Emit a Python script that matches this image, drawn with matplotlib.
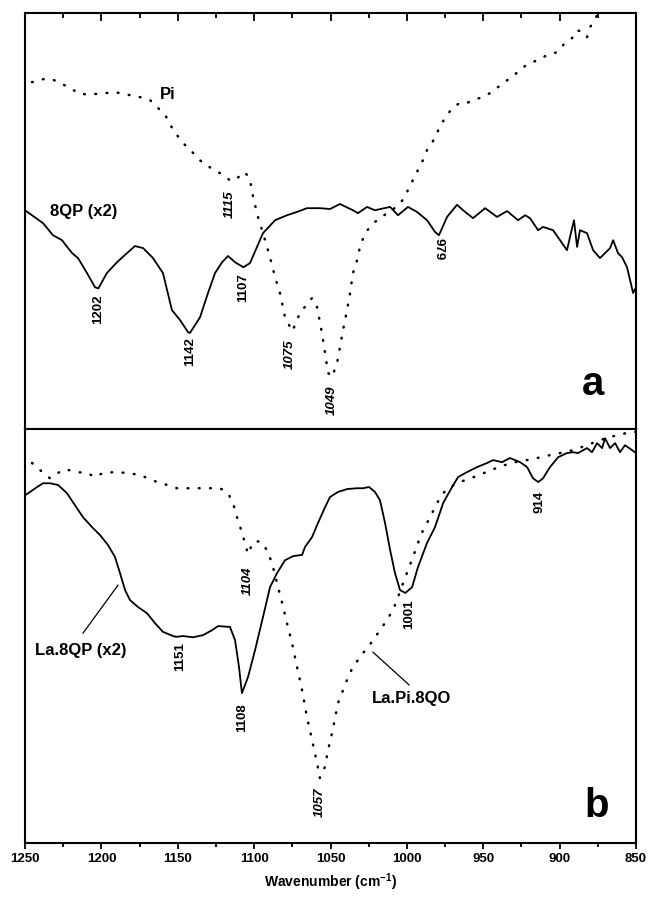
from matplotlib import pyplot as plt
from matplotlib.ticker import MultipleLocator

plt.rcParams['font.family'] = ['Liberation Sans', 'DejaVu Sans']
plt.rcParams['mathtext.fontset'] = 'custom'
plt.rcParams['mathtext.rm'] = 'Liberation Sans:bold'
plt.rcParams['mathtext.it'] = 'Liberation Sans:bold:italic'

# (a) 8QP (x2), solid
wn_8qp = [1250, 1238.2, 1231.7, 1225.8, 1219.2, 1215.3, 1209.4, 1204.2, 1202, 1196.4,
          1189.8, 1183.2, 1178.0, 1172.7, 1166.2, 1159.7, 1153.8, 1148.5, 1143.3, 1142,
          1135.4, 1130.2, 1125.6, 1121.0, 1117.1, 1112.5, 1107, 1102.7, 1098.1, 1094.2,
          1086.3, 1078.5, 1071.9, 1065.4, 1056.9, 1050.3, 1043.8, 1035.3, 1032.0, 1026.1,
          1020.9, 1011.0, 1005.8, 999.3, 993.4, 986.8, 981.6, 979, 973.7, 967.2,
          961.9, 956.7, 948.8, 941.0, 934.4, 927.2, 922.6, 919.4, 914.1, 910.9,
          904.3, 895.2, 893.2, 890.6, 888.6, 886.7, 882.1, 878.1, 873.6, 867.0,
          865.0, 861.8, 859.1, 855.9, 851.9, 850]
t_8qp = [52.6, 49.5, 46.6, 45.4, 42.3, 41.1, 37.5, 34.1, 33.8, 37.5,
         40.1, 42.3, 44.0, 43.5, 41.1, 37.5, 28.6, 26.2, 23.3, 23.1,
         26.9, 32.7, 37.5, 40.1, 41.6, 40.1, 38.9, 39.9, 43.8, 47.1,
         50.2, 51.4, 52.2, 53.1, 53.1, 52.9, 54.1, 52.6, 51.9, 53.4,
         52.6, 53.4, 51.4, 53.4, 52.2, 50.2, 47.4, 46.6, 51.0, 53.9,
         52.2, 50.7, 53.1, 51.0, 52.4, 50.2, 51.4, 50.7, 47.8, 48.6,
         47.8, 43.0, 46.2, 50.2, 43.8, 47.8, 47.1, 43.0, 41.1, 43.5,
         45.4, 42.3, 41.3, 38.9, 32.7, 34.1]

# (a) Pi, dotted
wn_pi = [1245.4, 1238.2, 1232.3, 1227.1, 1220.5, 1214.0, 1205.5, 1196.3, 1191.1, 1184.5,
         1174.7, 1168.2, 1162.9, 1157.0, 1153.1, 1146.6, 1140.0, 1133.5, 1122.3, 1115,
         1111.2, 1106.0, 1102.7, 1100.7, 1097.5, 1094.2, 1089.6, 1086.3, 1083.1, 1079.8,
         1075, 1070.0, 1062.1, 1058.8, 1055.6, 1053.6, 1051.6, 1049, 1045.7, 1043.8,
         1041.8, 1039.2, 1037.2, 1035.3, 1032.6, 1030.7, 1027.4, 1024.1, 1020.9, 1016.3,
         1013.0, 1009.7, 1004.5, 1001.2, 999.3, 996.0, 992.7, 989.4, 986.8, 983.5,
         980.3, 977.0, 973.7, 969.8, 965.2, 960.6, 956.7, 952.1, 947.5, 941.0,
         937.1, 931.2, 924.6, 919.4, 914.1, 908.2, 901.7, 896.5, 891.9, 888.6,
         884.7, 882.1, 880.1, 875.5, 870.3]
t_pi = [83.4, 84.1, 84.1, 83.2, 82.0, 80.5, 80.5, 80.8, 81.0, 80.5,
        79.8, 79.1, 77.2, 74.8, 71.9, 68.8, 66.4, 63.9, 61.5, 59.6,
        60.3, 61.8, 59.9, 55.8, 51.0, 47.1, 41.3, 36.5, 32.7, 26.9,
        23.5, 27.9, 31.5, 29.3, 23.1, 18.3, 13.5, 12.5, 15.9, 19.7,
        23.8, 28.6, 32.7, 37.5, 40.6, 43.8, 47.1, 48.6, 49.8, 51.0,
        51.9, 52.6, 54.3, 55.8, 57.5, 59.9, 62.3, 64.7, 67.1, 68.8,
        71.2, 73.6, 75.5, 77.4, 78.4, 78.4, 79.1, 79.6, 80.3, 82.0,
        83.2, 84.6, 86.8, 88.0, 88.7, 89.9, 90.6, 92.8, 94.0, 95.9,
        95.4, 94.2, 96.6, 99.5, 103.1]

# (b) La.8QP (x2), solid
wn_la8qp = [1250, 1246.7, 1242.1, 1238.2, 1233.6, 1228.4, 1222.5, 1217.3, 1212.0, 1206.1,
            1200.9, 1195.7, 1191.1, 1187.8, 1184.5, 1181.3, 1176.0, 1170.1, 1164.9, 1159.7,
            1153.1, 1151, 1146.6, 1140.0, 1133.5, 1127.6, 1123.6, 1115.8, 1112.5, 1109.9,
            1108, 1104.0, 1099.4, 1094.2, 1089.6, 1085.0, 1079.8, 1074.5, 1068.6, 1066.7,
            1062.1, 1058.2, 1053.6, 1050.3, 1045.1, 1039.2, 1032.6, 1028.7, 1024.8, 1020.9,
            1017.6, 1014.3, 1011.0, 1007.8, 1004.5, 1001, 996.6, 992.7, 986.8, 981.6,
            976.3, 970.4, 966.5, 960.6, 954.1, 947.5, 943.6, 937.7, 932.5, 925.9,
            921.3, 917.4, 914, 910.9, 906.3, 901.0, 895.2, 891.2, 888.0, 882.1,
            878.8, 875.5, 872.2, 870.3, 867.0, 863.7, 860.5, 857.2, 852.6, 850]
t_la8qp = [84.0, 84.8, 86.0, 86.9, 86.9, 86.5, 84.5, 81.6, 78.7, 76.3,
           74.4, 72.0, 69.1, 65.2, 61.1, 58.7, 57.0, 55.5, 53.1, 51.0,
           50.0, 49.8, 50.0, 49.7, 50.2, 51.4, 52.4, 52.2, 49.0, 42.5,
           36.2, 40.1, 46.6, 54.6, 61.8, 65.2, 68.3, 69.3, 69.6, 71.5,
           73.9, 77.3, 81.1, 83.6, 84.8, 85.5, 85.7, 85.7, 86.0, 84.8,
           82.8, 77.3, 70.8, 65.2, 61.1, 60.4, 61.8, 66.7, 72.5, 76.3,
           82.1, 86.0, 88.4, 89.6, 90.8, 91.8, 92.5, 92.0, 93.0, 92.0,
           90.8, 88.1, 87.2, 88.1, 90.8, 93.2, 94.2, 94.4, 94.2, 95.4,
           94.4, 96.6, 95.4, 97.8, 95.4, 96.6, 94.4, 96.1, 94.9, 94.2]

# (b) La.Pi.8QO, dotted
wn_lapi = [1245.4, 1240.2, 1233.6, 1228.4, 1223.8, 1216.0, 1209.4, 1204.2, 1198.9, 1191.1,
           1183.2, 1174.7, 1169.5, 1163.6, 1157.0, 1150.5, 1140.0, 1128.9, 1122.3, 1117.1,
           1113.8, 1111.2, 1107.9, 1104, 1100.7, 1096.1, 1091.6, 1088.3, 1085.0, 1081.7,
           1078.5, 1075.2, 1071.9, 1068.6, 1065.4, 1062.1, 1058.8, 1057, 1053.6, 1051.6,
           1049.0, 1047.0, 1045.1, 1041.8, 1038.5, 1035.3, 1032.0, 1028.7, 1025.4, 1022.2,
           1017.6, 1013.0, 1009.1, 1005.8, 1002.5, 999.3, 996.0, 992.7, 989.4, 984.8,
           980.3, 976.3, 971.8, 965.2, 958.7, 952.1, 945.6, 939.0, 932.5, 924.0,
           914.8, 906.3, 899.7, 891.2, 882.1, 873.6, 867.0, 860.5, 854.0, 850]
t_lapi = [91.8, 90.1, 88.1, 89.4, 90.3, 89.6, 89.4, 88.4, 89.4, 89.6,
          89.4, 88.9, 88.1, 87.2, 86.5, 85.7, 85.7, 85.7, 85.7, 84.5,
          82.1, 78.7, 74.9, 69.8, 72.7, 72.9, 70.8, 67.6, 62.8, 58.0,
          53.1, 48.3, 42.5, 36.9, 30.4, 24.9, 19.3, 15.7, 18.4, 22.5,
          26.6, 30.2, 33.8, 36.9, 40.1, 42.5, 44.2, 45.9, 47.3, 49.0,
          51.4, 53.9, 56.3, 59.4, 62.8, 65.9, 69.1, 72.5, 75.6, 78.7,
          82.1, 84.5, 86.0, 87.2, 88.1, 88.9, 90.1, 90.8, 91.8, 92.3,
          93.0, 93.7, 94.2, 94.9, 96.1, 97.3, 98.1, 98.6, 99.3, 99.3]

# peak labels: (wavenumber, rotation, dx, gap) - dx/gap in points
peaks_a_solid = [(1202, 90, 0, 4), (1142, 90, 0, 3), (1107, 90, 0, 4), (979, -90, 0, 2)]
peaks_a_dot = [(1115, 90, -1, 7), (1075, 90, -2, 6), (1049, 90, 0, 6)]
peaks_b_solid = [(1151, 90, 3, 4), (1108, 90, 0, 7), (1001, 90, 3, 5), (914, 90, 1, 6)]
peaks_b_dot = [(1104, 90, 0, 9), (1057, 90, 0, 7)]

fig = plt.figure(figsize=(6.51, 9.09), dpi=100)
ax1 = fig.add_axes([0.0384, 0.528, 0.9386, 0.4576])
ax2 = fig.add_axes([0.0384, 0.0726, 0.9386, 0.4554])

dots = (0, (0.3, 4.2))
ax1.plot(wn_8qp, t_8qp, color='black', lw=1.3)
ax1.plot(wn_pi, t_pi, color='black', lw=1.8, linestyle=dots, dash_capstyle='round')
ax2.plot(wn_la8qp, t_la8qp, color='black', lw=1.3)
ax2.plot(wn_lapi, t_lapi, color='black', lw=1.8, linestyle=dots, dash_capstyle='round')


def label_peaks(ax, wn, t, peaks, italic):
    for p, rot, dx, gap in peaks:
        y = t[wn.index(p)]
        ax.annotate(str(p), xy=(p, y), xytext=(dx, -gap), textcoords='offset points',
                    rotation=rot, ha='center', va='top', fontsize=9.5,
                    fontweight='bold', fontstyle='italic' if italic else 'normal')


label_peaks(ax1, wn_8qp, t_8qp, peaks_a_solid, False)
label_peaks(ax1, wn_pi, t_pi, peaks_a_dot, True)
label_peaks(ax2, wn_la8qp, t_la8qp, peaks_b_solid, False)
label_peaks(ax2, wn_lapi, t_lapi, peaks_b_dot, True)

ax1.text(1233.6, 52.4, '8QP (x2)', fontsize=12, fontweight='bold', va='center')
ax1.text(1161.6, 80.5, 'Pi', fontsize=12, fontweight='bold', va='center')
ax2.text(1243.5, 46.6, 'La.8QP (x2)', fontsize=12, fontweight='bold', va='center')
ax2.plot([1212.0, 1189.1], [50.7, 62.3], color='black', lw=0.9)
ax2.text(1022.8, 35.0, 'La.Pi.8QO', fontsize=12, fontweight='bold', va='center')
ax2.plot([1022.2, 998.6], [46.1, 38.2], color='black', lw=0.9)

ax1.text(0.93, 0.082, 'a', transform=ax1.transAxes, fontsize=29, fontweight='bold',
         ha='center', va='baseline')
ax2.text(0.936, 0.063, 'b', transform=ax2.transAxes, fontsize=29, fontweight='bold',
         ha='center', va='baseline')

for ax in (ax1, ax2):
    ax.set_xlim(1250, 850)
    ax.set_ylim(0, 100)
    ax.set_yticks([])
    ax.xaxis.set_major_locator(MultipleLocator(50))
    ax.xaxis.set_minor_locator(MultipleLocator(25))
    for s in ax.spines.values():
        s.set_linewidth(1.5)

ax1.tick_params(axis='x', which='both', direction='in', top=True, bottom=False,
                labelbottom=False, width=1.3)
ax1.tick_params(axis='x', which='major', length=6)
ax1.tick_params(axis='x', which='minor', length=3.5)

ax2.tick_params(axis='x', which='both', direction='out', width=1.3)
ax2.tick_params(axis='x', which='major', length=4.5, labelsize=9.5, pad=3)
ax2.tick_params(axis='x', which='minor', length=3)
for lbl in ax2.get_xticklabels():
    lbl.set_fontweight('bold')

ax2.set_xlabel('Wavenumber (cm$^{-1}$)', fontsize=10, fontweight='bold', labelpad=4)

fig.savefig('out.png', dpi=100)
